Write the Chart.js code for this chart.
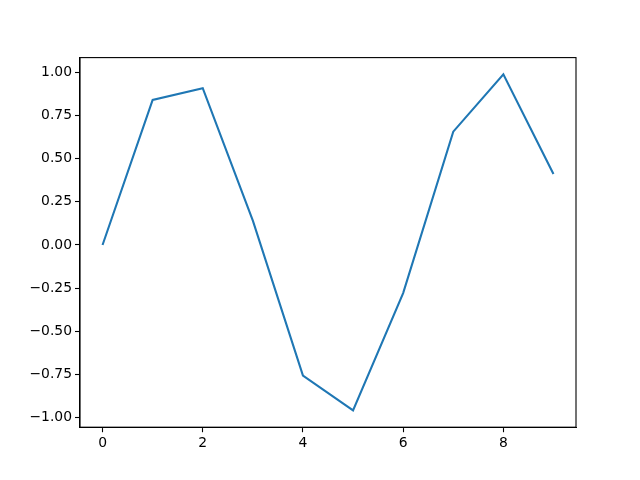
<!DOCTYPE html>
<html>
<head>
<meta charset="utf-8">
<script src="https://cdn.jsdelivr.net/npm/chart.js@4"></script>
<style>
html,body{margin:0;padding:0;background:#fff;}
canvas{display:block;}
</style>
</head>
<body>
<canvas id="c" width="640" height="480"></canvas>
<script>
const xValues = [0, 1, 2, 3, 4, 5, 6, 7, 8, 9];
const yValues = [0.0, 0.841, 0.909, 0.141, -0.757, -0.959, -0.279, 0.657, 0.989, 0.412];
const xTicks = [0, 2, 4, 6, 8];
const yTicks = [-1.0, -0.75, -0.5, -0.25, 0.0, 0.25, 0.5, 0.75, 1.0];

const frame = {
  id: 'frame',
  afterDraw(chart) {
    const a = chart.chartArea, ctx = chart.ctx;
    ctx.save();
    ctx.strokeStyle = '#000';
    ctx.lineWidth = 1.1;
    ctx.strokeRect(a.left, a.top, a.right - a.left, a.bottom - a.top);
    ctx.restore();
  }
};

const font = {family: 'DejaVu Sans', size: 13.9};
const fmt = (v, d) => (v < 0 ? '\u2212' : '') + Math.abs(v).toFixed(d);

new Chart(document.getElementById('c'), {
  type: 'line',
  data: {
    datasets: [{
      data: xValues.map((x, i) => ({x: x, y: yValues[i]})),
      borderColor: '#1f77b4',
      borderWidth: 2.1,
      pointRadius: 0,
      tension: 0,
      fill: false
    }]
  },
  options: {
    responsive: false,
    animation: false,
    devicePixelRatio: 1,
    layout: {padding: {left: 0, top: 57.6, right: 64, bottom: 0}},
    plugins: {legend: {display: false}, tooltip: {enabled: false}},
    scales: {
      x: {
        type: 'linear',
        min: -0.45, max: 9.45,
        afterBuildTicks: s => { s.ticks = xTicks.map(v => ({value: v})); },
        afterFit: s => { s.height = 52.8; },
        grid: {drawOnChartArea: false, tickLength: 5, tickColor: '#000', tickWidth: 1.1},
        border: {display: true, color: '#000', width: 1.1},
        ticks: {color: '#000', font: font, padding: 3, maxRotation: 0,
          callback: v => fmt(v, 0)}
      },
      y: {
        type: 'linear',
        min: -1.0564, max: 1.0864,
        afterBuildTicks: s => { s.ticks = yTicks.map(v => ({value: v})); },
        afterFit: s => { s.width = 80; },
        grid: {drawOnChartArea: false, tickLength: 5, tickColor: '#000', tickWidth: 1.1},
        border: {display: true, color: '#000', width: 1.1},
        ticks: {color: '#000', font: font, padding: 3,
          callback: v => fmt(v, 2)}
      }
    }
  },
  plugins: [frame]
});
</script>
</body>
</html>
